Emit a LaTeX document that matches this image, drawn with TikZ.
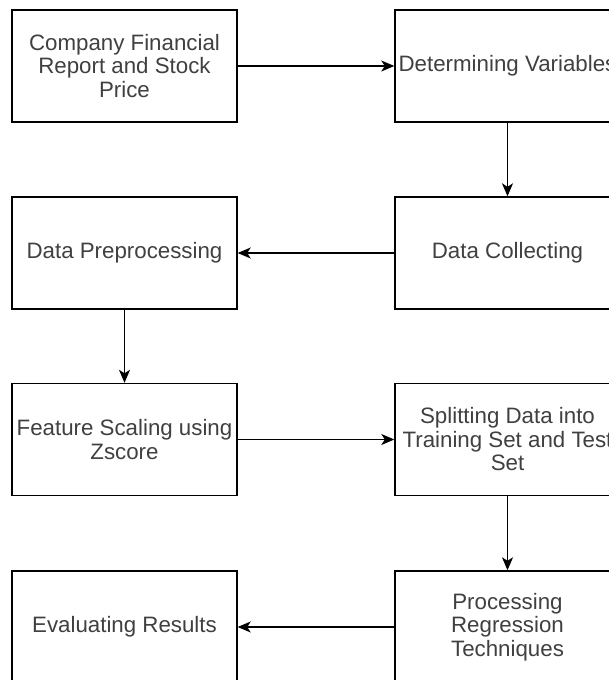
\documentclass[tikz,border=0pt]{standalone}
\usepackage{fontspec}
\setmainfont{Liberation Sans}
\usetikzlibrary{arrows.meta}
\begin{document}
\begin{tikzpicture}[x=1pt,y=-1pt,
  stepbox/.style={draw=black, line width=1.4pt, minimum width=225pt, minimum height=112pt,
    inner sep=0pt, align=center, text=black!75, font=\fontsize{22.3}{23.5}\selectfont},
  conn/.style={line width=1.3pt, -{Stealth[length=13pt,width=11pt,inset=3.5pt]}}]
\useasboundingbox (0,0) rectangle (609,680);
\clip (0,0) rectangle (609,680);
\fill[white] (0,0) rectangle (609,680);
\node[stepbox] (a) at (124.5,66) {Company Financial\\Report and Stock\\Price};
\node[stepbox] (b) at (507.5,66) {Determining Variables};
\node[stepbox] (c) at (507.5,253) {Data Collecting};
\node[stepbox] (d) at (124.5,253) {Data Preprocessing};
\node[stepbox] (e) at (124.5,439.5) {Feature Scaling using\\Zscore};
\node[stepbox] (f) at (507.5,439.5) {Splitting Data into\\Training Set and Test\\Set};
\node[stepbox] (g) at (507.5,627) {Processing\\Regression\\Techniques};
\node[stepbox] (h) at (124.5,627) {Evaluating Results};
\draw[conn] (a) -- (b);
\draw[conn] (b) -- (c);
\draw[conn] (c) -- (d);
\draw[conn] (d) -- (e);
\draw[conn] (e) -- (f);
\draw[conn] (f) -- (g);
\draw[conn] (g) -- (h);
\end{tikzpicture}
\end{document}
